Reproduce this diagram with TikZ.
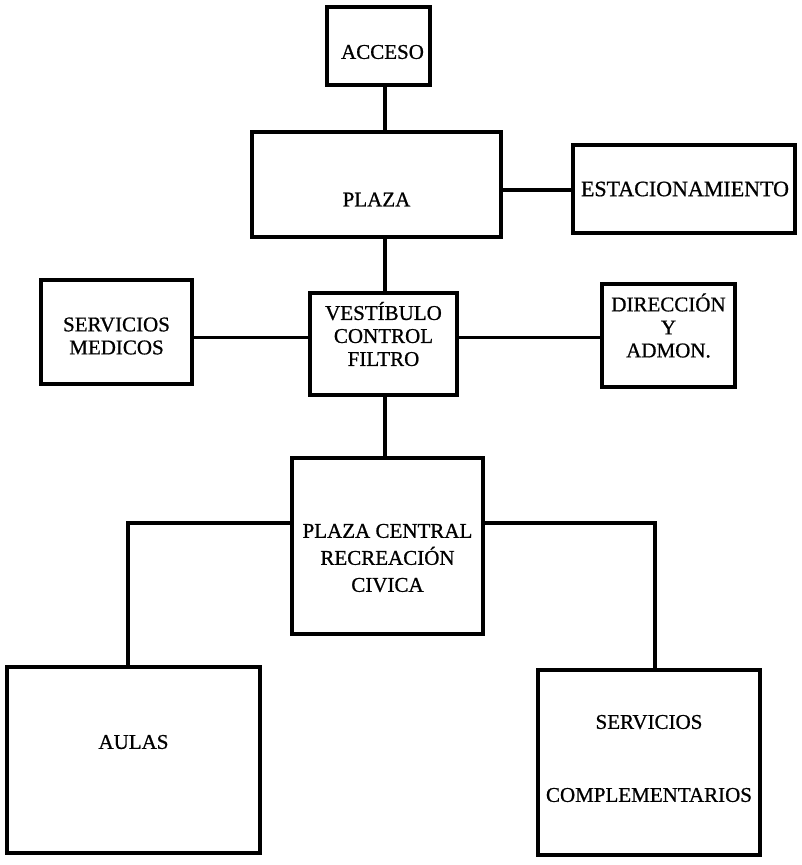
\documentclass[tikz,border=0pt]{standalone}
\usepackage{fontspec}
\setmainfont{Liberation Serif}
\newfontfamily\scanfont[FakeBold=0.8]{Liberation Serif}
\begin{document}
\begin{tikzpicture}[x=1pt,y=-1pt,
  box/.style={draw,line width=4pt,rectangle,inner sep=0pt},
  tx/.style={align=center,inner sep=0pt,font=\scanfont\fontsize{21}{23}\selectfont},
  conn/.style={line width=3.5pt}]
\useasboundingbox[fill=white] (0,0) rectangle (802,865);
% boxes
\node[box,minimum width=103,minimum height=78] (acceso) at (378.5,46) {};
\node[tx] (accesot) at ([xshift=4pt,yshift=-6pt]acceso.center) {ACCESO};
\node[box,minimum width=249,minimum height=105] (plaza) at (376.5,184.5) {};
\node[tx] (plazat) at ([yshift=-15pt]plaza.center) {PLAZA};
\node[box,minimum width=222,minimum height=88] (estac) at (684,189) {};
\node[tx,font=\scanfont\fontsize{22}{23}\selectfont] (estact) at ([xshift=1pt]estac.center) {ESTACIONAMIENTO};
\node[box,minimum width=151,minimum height=104] (servmed) at (116.5,332) {};
\node[tx] (servmedt) at ([yshift=-4pt]servmed.center) {SERVICIOS\\MEDICOS};
\node[box,minimum width=147,minimum height=102] (vest) at (383.5,344) {};
\node[tx] (vestt) at ([yshift=10pt]vest.center) {VESTÍBULO\\CONTROL\\FILTRO};
\node[box,minimum width=133,minimum height=103] (dir) at (668.5,335.5) {};
\node[tx] (dirt) at ([yshift=10pt]dir.center) {DIRECCIÓN\\Y\\ADMON.};
\node[box,minimum width=191,minimum height=176] (pc) at (387.5,546) {};
\node[tx,font=\scanfont\fontsize{21}{27}\selectfont] (pct) at ([yshift=-12pt]pc.center) {PLAZA CENTRAL\\RECREACIÓN\\CIVICA};
\node[box,minimum width=253,minimum height=186] (aulas) at (133.5,760) {};
\node[tx] (aulast) at ([yshift=18pt]aulas.center) {AULAS};
\node[box,minimum width=222,minimum height=185] (servcomp) at (649,762.5) {};
\node[tx] (servcompt) at ([yshift=4pt]servcomp.center) {SERVICIOS\\[50pt]COMPLEMENTARIOS};
% guide coordinates
\coordinate (spine) at (385,0);
\coordinate (row1) at (0,190);
\coordinate (row2) at (0,337.5);
\coordinate (row3) at (0,523);
\coordinate (colL) at (128,0);
\coordinate (colR) at (655,0);
% connectors
\draw[conn] (acceso.south -| spine) -- (plaza.north -| spine);
\draw[conn] (plaza.east |- row1) -- (estac.west |- row1);
\draw[conn] (plaza.south -| spine) -- (vest.north -| spine);
\draw[conn] (servmed.east |- row2) -- (vest.west |- row2);
\draw[conn] (vest.east |- row2) -- (dir.west |- row2);
\draw[conn] (vest.south -| spine) -- (pc.north -| spine);
\draw[conn] (pc.west |- row3) -| (aulas.north -| colL);
\draw[conn] (pc.east |- row3) -| (servcomp.north -| colR);
\end{tikzpicture}
\end{document}
